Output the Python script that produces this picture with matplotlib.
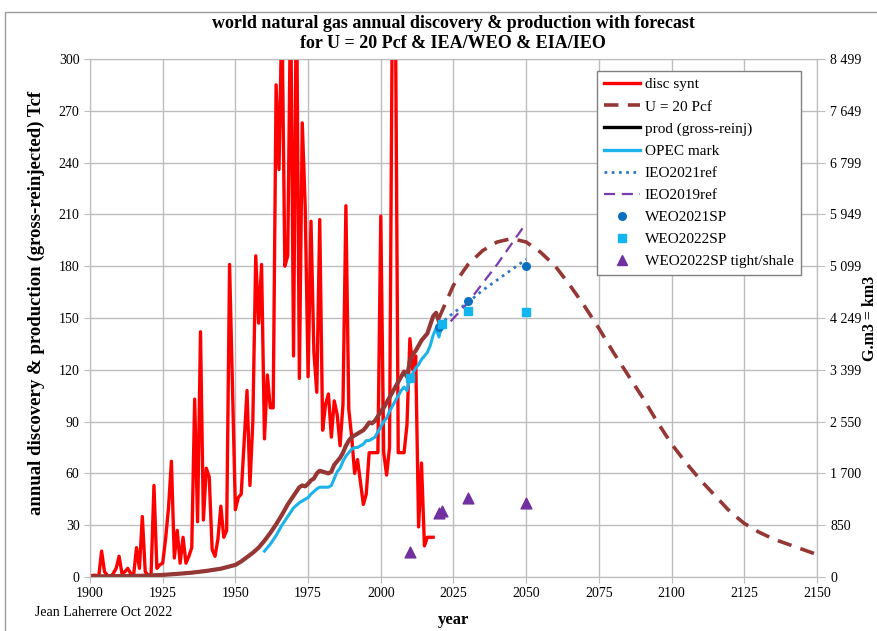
import matplotlib
matplotlib.use("Agg")
import matplotlib.pyplot as plt
import numpy as np
from matplotlib.lines import Line2D
from matplotlib.patches import Rectangle

plt.rcParams['font.family'] = ['Liberation Serif', 'DejaVu Serif']

# 発見量（合成）1900-2018, Tcf
disc_years = list(range(1900, 2019))
disc_vals = [0, 1, 1, 0, 15, 3, 1, 0, 2, 5,
             12, 2, 3, 5, 2, 1, 17, 5, 35, 3,
             1, 1, 53, 5, 7, 8, 22, 40, 67, 11,
             27, 8, 23, 8, 12, 17, 103, 32, 142, 33,
             63, 58, 16, 12, 22, 41, 23, 27, 181, 110,
             39, 46, 48, 78, 108, 53, 90, 186, 147, 181,
             80, 117, 98, 98, 285, 236, 330, 180, 186, 340,
             128, 350, 115, 263, 215, 116, 206, 130, 107, 207,
             85, 100, 106, 81, 102, 94, 76, 100, 215, 97,
             81, 60, 68, 55, 42, 48, 72, 72, 72, 72,
             209, 72, 59, 75, 340, 340, 72, 72, 72, 88,
             138, 120, 128, 29, 66, 18, 23, 23, 23]

# 生産量（U = 20 Pcf モデル、過去分）
hist_years = [1900, 1905, 1910, 1915, 1920, 1925, 1930, 1935, 1940, 1945,
              1950, 1952, 1954, 1956, 1958, 1960, 1962, 1964, 1966, 1968,
              1970, 1972, 1973, 1974, 1975, 1976, 1977, 1978, 1979, 1980,
              1981, 1982, 1983, 1984, 1985, 1986, 1987, 1988, 1989, 1990,
              1991, 1992, 1993, 1994, 1995, 1996, 1997, 1998, 1999, 2000,
              2001, 2002, 2003, 2004, 2005, 2006, 2007, 2008, 2009, 2010,
              2011, 2012, 2013, 2014, 2015, 2016, 2017, 2018, 2019, 2020]
hist_vals = [0.3, 0.4, 0.5, 0.6, 0.8, 1.2, 1.8, 2.5, 3.5, 4.8,
             7, 9, 11.5, 14, 17, 21, 25.5, 30.5, 36, 42,
             47, 52, 53, 52.5, 54, 56, 57, 60, 61.5, 61,
             60.5, 60, 61, 65, 67, 69, 72, 76, 79, 81,
             82, 83, 84, 85, 87, 89.5, 89, 90.5, 93, 96,
             98, 101, 104, 107, 110, 113, 116, 119, 116, 125,
             129, 131, 134, 137, 139, 141, 146, 151, 153, 148]

# 予測 U = 20 Pcf
fc_years = [2020, 2025, 2030, 2035, 2040, 2045, 2050, 2055, 2060, 2065,
            2070, 2075, 2080, 2085, 2090, 2095, 2100, 2105, 2110, 2115,
            2120, 2125, 2130, 2135, 2140, 2145, 2150]
fc_vals = [150, 169, 181, 189, 194, 196, 194, 188, 180, 169,
           157, 144, 130, 117, 104, 90, 77, 66, 56, 47,
           38, 31, 26, 22, 19, 16, 13]

# OPEC
opec_years = [1960, 1962, 1964, 1966, 1968, 1970, 1972, 1974, 1975, 1976,
              1978, 1979, 1980, 1981, 1982, 1983, 1984, 1985, 1986, 1987,
              1988, 1989, 1990, 1991, 1992, 1993, 1994, 1995, 1996, 1997,
              1998, 1999, 2000, 2001, 2002, 2003, 2004, 2005, 2006, 2007,
              2008, 2009, 2010, 2011, 2012, 2013, 2014, 2015, 2016, 2017,
              2018, 2019, 2020, 2021]
opec_vals = [15, 19, 24, 30, 35, 40, 43, 45, 46, 48,
             51, 52, 52, 52, 52, 53, 57, 61, 63, 67,
             70, 72, 74, 75, 75, 76, 77, 79, 79, 80,
             81, 84, 87, 90, 92, 96, 99, 102, 105, 108,
             110, 108, 115, 118, 121, 123, 126, 128, 130, 134,
             140, 144, 139, 146]

ieo21_years = [2020, 2025, 2030, 2035, 2040, 2045, 2050]
ieo21_vals = [146, 153, 159, 166, 172, 178, 184]
ieo19_years = [2024, 2030, 2035, 2040, 2045, 2050]
ieo19_vals = [148, 159, 170, 181, 193, 205]

weo21_years = [2020, 2030, 2050]
weo21_vals = [145, 160, 180]
weo22_years = [2010, 2021, 2030, 2050]
weo22_vals = [115, 146.5, 154, 153.5]
tight_years = [2010, 2020, 2021, 2030, 2050]
tight_vals = [14.5, 37, 38.5, 46, 43]

x_ticks = list(range(1900, 2151, 25))
y_ticks = list(range(0, 301, 30))
right_labels = ['0', '850', '1 700', '2 550', '3 399', '4 249',
                '5 099', '5 949', '6 799', '7 649', '8 499']

fig = plt.figure(figsize=(8.77, 6.31), dpi=100)
ax = fig.add_axes([0.1026, 0.0856, 0.829, 0.8209])

ax.plot(disc_years, disc_vals, color='#FF0000', lw=2.4, zorder=3)
ax.plot(hist_years, hist_vals, color='black', lw=2, zorder=4)
ax.plot(hist_years, hist_vals, color='#953735', lw=3, zorder=5)
ax.plot(fc_years, fc_vals, color='#953735', lw=2.6, ls=(0, (4, 2.6)), zorder=5)
ax.plot(opec_years, opec_vals, color='#1CB2EC', lw=2.2, zorder=6)
ax.plot(ieo21_years, ieo21_vals, color='#2E7BC4', lw=2, ls=(0, (1, 1.6)), zorder=6)
ax.plot(ieo19_years, ieo19_vals, color='#7A3BB0', lw=1.6, ls=(0, (5, 3)), zorder=6)
ax.scatter(weo21_years, weo21_vals, marker='o', s=30, color='#0B6FC0', zorder=7)
ax.scatter(weo22_years, weo22_vals, marker='s', s=30, color='#13B5F0', zorder=7)
ax.scatter(tight_years, tight_vals, marker='^', s=60, color='#7030A0', zorder=7)

ax.set_xlim(1900, 2150)
ax.set_ylim(0, 300)
ax.set_xticks(x_ticks)
ax.set_yticks(y_ticks)
ax.grid(True, color='#BDBDBD', lw=1)
ax.set_axisbelow(True)
for s in ax.spines.values():
    s.set_color('#BDBDBD')
ax.tick_params(axis='both', labelsize=10, colors='black', length=4, color='#BDBDBD')

ax2 = ax.twinx()
ax2.set_ylim(0, 300)
ax2.set_yticks(y_ticks)
ax2.set_yticklabels(right_labels)
ax2.tick_params(axis='y', labelsize=10, length=6, color='#BDBDBD')
for s in ax2.spines.values():
    s.set_color('#BDBDBD')
ax2.set_ylabel('G.m3 = km3', fontsize=11.5, fontweight='bold')
ax2.yaxis.set_label_coords(1.062, 0.5)

ax.set_ylabel('annual discovery & production (gross-reinjected) Tcf',
              fontsize=13.5, fontweight='bold')
ax.yaxis.set_label_coords(-0.062, 0.53)
ax.set_xlabel('year', fontsize=12, fontweight='bold', labelpad=8)

fig.text(0.517, 0.963, 'world natural gas annual discovery & production with forecast',
         ha='center', va='center', fontsize=13, fontweight='bold')
fig.text(0.517, 0.931, 'for U = 20 Pcf & IEA/WEO & EIA/IEO',
         ha='center', va='center', fontsize=13, fontweight='bold')
fig.text(0.04, 0.03, 'Jean Laherrere Oct 2022', ha='left', va='center', fontsize=10)

handles = [
    Line2D([], [], color='#FF0000', lw=2.4),
    Line2D([], [], color='#953735', lw=2.6, ls=(0, (4, 2.6))),
    Line2D([], [], color='black', lw=2.4),
    Line2D([], [], color='#1CB2EC', lw=2.4),
    Line2D([], [], color='#2E7BC4', lw=2, ls=(0, (1, 1.6))),
    Line2D([], [], color='#7A3BB0', lw=1.6, ls=(0, (5, 3))),
    Line2D([], [], color='#0B6FC0', marker='o', ls='none', markersize=5.5),
    Line2D([], [], color='#13B5F0', marker='s', ls='none', markersize=5.5),
    Line2D([], [], color='#7030A0', marker='^', ls='none', markersize=7.5),
]
labels = ['disc synt', 'U = 20 Pcf', 'prod (gross-reinj)', 'OPEC mark',
          'IEO2021ref', 'IEO2019ref', 'WEO2021SP', 'WEO2022SP',
          'WEO2022SP tight/shale']
leg = ax.legend(handles, labels, loc='upper left', bbox_to_anchor=(0.697, 0.977),
                borderaxespad=0, fontsize=11, fancybox=False, framealpha=1,
                edgecolor='#808080', handlelength=2.4, handletextpad=0.3,
                labelspacing=0.55, borderpad=0.45)
leg.get_frame().set_linewidth(1)
leg.set_zorder(10)

fig.patches.append(Rectangle((0.006, -0.1), 1.2, 1.081, transform=fig.transFigure,
                             fill=False, edgecolor='#9A9A9A', lw=1))

fig.savefig('out.png', dpi=100)
